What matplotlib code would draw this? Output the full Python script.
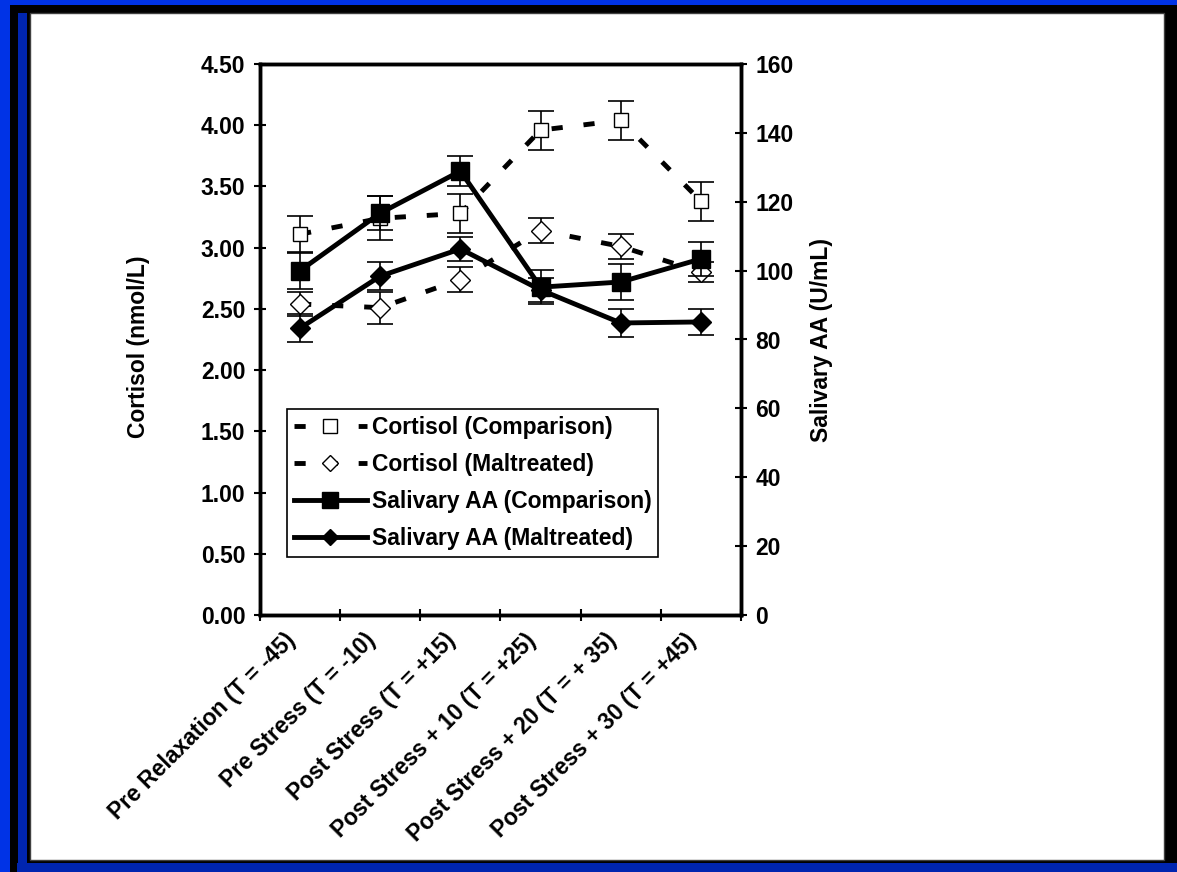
import numpy as np
import matplotlib.pyplot as plt
from matplotlib.patches import Rectangle
from matplotlib.lines import Line2D

plt.rcParams['font.family'] = 'Liberation Sans'
plt.rcParams['font.weight'] = 'bold'
plt.rcParams['axes.labelweight'] = 'bold'
plt.rcParams['font.size'] = 16.5

stages = ['Pre Relaxation (T = -45)', 'Pre Stress (T = -10)', 'Post Stress (T = +15)',
          'Post Stress + 10 (T = +25)', 'Post Stress + 20 (T = + 35)',
          'Post Stress + 30 (T = +45)']

# cortisol, nmol/L (left axis)
cort_comp = [3.11, 3.24, 3.28, 3.96, 4.04, 3.38]
cort_comp_err = [0.15, 0.18, 0.16, 0.16, 0.16, 0.16]
cort_malt = [2.54, 2.51, 2.74, 3.14, 3.01, 2.80]
cort_malt_err = [0.10, 0.13, 0.10, 0.10, 0.10, 0.08]

# salivary alpha-amylase, U/mL (right axis)
saa_comp = [100.0, 116.7, 128.9, 95.2, 96.7, 103.4]
saa_comp_err = [5.4, 4.9, 4.4, 5.0, 5.2, 5.0]
saa_malt = [83.3, 98.4, 106.3, 94.4, 84.8, 85.1]
saa_malt_err = [4.1, 4.0, 3.5, 3.5, 4.0, 3.7]

W, H = 1177, 872
fig = plt.figure(figsize=(W / 100, H / 100), dpi=100, facecolor='#0033e6')


def box(x0, y0, x1, y1, color, **kw):
    # rectangle given in pixels from the top-left corner
    fig.add_artist(Rectangle((x0 / W, 1 - y1 / H), (x1 - x0) / W, (y1 - y0) / H,
                             transform=fig.transFigure, facecolor=color,
                             zorder=-5, **kw))


box(10, 5, 1177, 863, 'black', edgecolor='none')
box(10, 863, 17, 872, 'black', edgecolor='none')
box(17, 863, 1177, 872, '#0025b0', edgecolor='none')
box(18, 13, 27, 863, '#0025b0', edgecolor='none')
box(30, 13, 1164, 860, 'white', edgecolor='#404040', linewidth=1)

ax = fig.add_axes([260 / W, 1 - 615 / H, (741 - 260) / W, (615 - 64) / H])
ax2 = ax.twinx()
x = np.arange(len(stages))

dash = (0, (2.3, 4.3))
lw = 3.5
ebkw = dict(fmt='none', ecolor='black', elinewidth=1.2, capsize=9.5, capthick=1.2)

ax.errorbar(x, cort_comp, yerr=cort_comp_err, **ebkw)
ax.errorbar(x, cort_malt, yerr=cort_malt_err, **ebkw)
ax.plot(x, cort_comp, color='black', lw=lw, ls=dash, dash_capstyle='butt',
        marker='s', ms=9.5, mfc='white', mec='black', mew=1.0, zorder=3)
ax.plot(x, cort_malt, color='black', lw=lw, ls=dash, dash_capstyle='butt',
        marker='D', ms=10.5, mfc='white', mec='black', mew=1.0, zorder=3)

ax2.errorbar(x, saa_comp, yerr=saa_comp_err, **ebkw)
ax2.errorbar(x, saa_malt, yerr=saa_malt_err, **ebkw)
ax2.plot(x, saa_comp, color='black', lw=lw, marker='s', ms=13, mfc='black',
         mec='black', zorder=3)
ax2.plot(x, saa_malt, color='black', lw=lw, marker='D', ms=10, mfc='black',
         mec='black', zorder=3)

ax.set_xlim(-0.5, len(stages) - 0.5)
ax.set_ylim(0, 4.5)
ax2.set_ylim(0, 160)
ax.set_yticks(np.arange(0, 4.51, 0.5))
ax.set_yticklabels(['%.2f' % v for v in np.arange(0, 4.51, 0.5)])
ax2.set_yticks(np.arange(0, 161, 20))

ax.set_xticks(np.arange(-0.5, len(stages)))
ax.set_xticklabels([])
ax.set_xticks(x, minor=True)
ax.set_xticklabels(stages, minor=True, rotation=45, ha='right', va='top')
ax.tick_params(axis='x', which='minor', length=0, pad=10)
ax.tick_params(axis='x', which='major', direction='inout', length=9, width=1.5)
ax.tick_params(axis='y', direction='inout', length=9, width=1.5, pad=6)
ax2.tick_params(axis='y', direction='inout', length=9, width=1.5, pad=6)

for a in (ax, ax2):
    for s in a.spines.values():
        s.set_linewidth(2.5)

ax.set_ylabel('Cortisol (nmol/L)')
ax.yaxis.set_label_coords(-0.229, 0.487)
ax2.set_ylabel('Salivary AA (U/mL)')
ax2.yaxis.set_label_coords(1.143, 0.5)

handles = [
    Line2D([], [], color='black', lw=lw, ls=dash, dash_capstyle='butt', marker='s',
           ms=9.5, mfc='white', mec='black', mew=1.0),
    Line2D([], [], color='black', lw=lw, ls=dash, dash_capstyle='butt', marker='D',
           ms=8, mfc='white', mec='black', mew=1.0),
    Line2D([], [], color='black', lw=lw, marker='s', ms=11, mfc='black', mec='black'),
    Line2D([], [], color='black', lw=lw, marker='D', ms=8, mfc='black', mec='black'),
]
labels = ['Cortisol (Comparison)', 'Cortisol (Maltreated)',
          'Salivary AA (Comparison)', 'Salivary AA (Maltreated)']
leg = ax2.legend(handles, labels, loc='upper left', bbox_to_anchor=(0.056, 0.374),
                 borderaxespad=0, fancybox=False, framealpha=1, edgecolor='black',
                 handlelength=3.2, handletextpad=0.2, labelspacing=0.62,
                 borderpad=0.3)
leg.get_frame().set_linewidth(1.2)

fig.savefig('out.png', dpi=100, facecolor=fig.get_facecolor())
